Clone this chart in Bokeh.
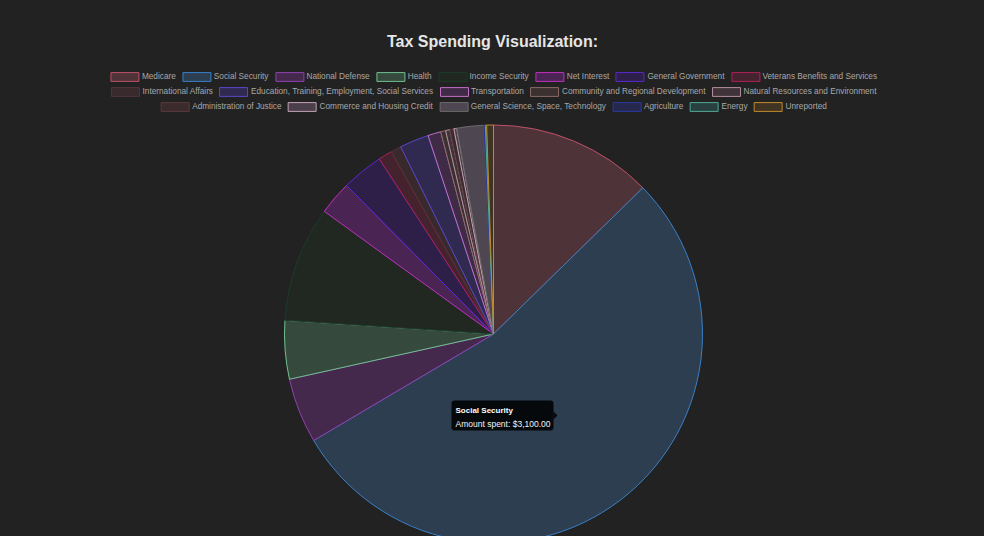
import numpy as np
from bokeh.plotting import figure
from bokeh.models import ColumnDataSource, Range1d, Legend, LegendItem, Label, BoxAnnotation
from bokeh.embed import file_html
from bokeh.resources import INLINE

# ---------------- data ----------------
categories = [
    "Medicare", "Social Security", "National Defense", "Health", "Income Security",
    "Net Interest", "General Government", "Veterans Benefits and Services",
    "International Affairs", "Education, Training, Employment, Social Services",
    "Transportation", "Community and Regional Development",
    "Natural Resources and Environment", "Administration of Justice",
    "Commerce and Housing Credit", "General Science, Space, Technology",
    "Agriculture", "Energy", "Unreported",
]
amounts = [730, 3100, 290, 260, 515, 150, 185, 62, 46, 130, 58, 22, 19, 18, 13, 120, 6, 6, 30]

fill_colors = [
    "#4e3338", "#2c3e50", "#45294c", "#35493d", "#212822",
    "#4a2452", "#2d1f48", "#44232e", "#38292c", "#312a50",
    "#3f2b45", "#3a302f", "#40343a", "#3b2b2d", "#4b4049",
    "#4e4650", "#25284a", "#2a403e", "#3f3322",
]
border_colors = [
    "#c0506a", "#3a80c8", "#9040b0", "#70c090", "#1d3a2a",
    "#c030c0", "#5a28d0", "#b0205a", "#503438", "#5848c8",
    "#c070c8", "#8a6a66", "#b38ea0", "#5a3a3e", "#c3a3bb",
    "#6c6c6c", "#2a3aa0", "#4fa898", "#c08a2a",
]
legend_rows = [8, 5, 6]
tooltip_category = "Social Security"
title_text = "Tax Spending Visualization:"

# ---------------- layout ----------------
W, H = 984, 536
BG = "#222222"
CX, CY, R = 493, H - 333.5, 209

vals = np.array(amounts, dtype=float)
frac = vals / vals.sum()
cum_end = np.cumsum(frac)
cum_start = cum_end - frac
# clockwise from 12 o'clock
start_angle = np.pi / 2 - 2 * np.pi * cum_end
end_angle = np.pi / 2 - 2 * np.pi * cum_start

src = ColumnDataSource(dict(
    category=categories, amount=amounts, start=start_angle, end=end_angle,
    fill=fill_colors, line=border_colors,
))

p = figure(width=W, height=H, x_range=Range1d(0, W), y_range=Range1d(0, H),
           x_axis_type=None, y_axis_type=None, toolbar_location=None,
           output_backend="svg", min_border=0,
           background_fill_color=BG, border_fill_color=BG, outline_line_color=None)

r = p.wedge(x=CX, y=CY, radius=R, start_angle="start", end_angle="end",
            fill_color="fill", line_color="line", line_width=1, source=src)

# legend rows (Chart.js style, centered rows)
margins = [71, 86, 101]
idx = 0
for row, n in enumerate(legend_rows):
    items = [LegendItem(label=categories[i], renderers=[r], index=i) for i in range(idx, idx + n)]
    leg = Legend(items=items, orientation="horizontal", location="top_center",
                 margin=margins[row], padding=0, spacing=3,
                 glyph_width=35, glyph_height=11, label_standoff=0, label_height=11,
                 label_text_font_size="8.25px", label_text_color="#a8a8a8",
                 label_text_font="Liberation Sans",
                 border_line_alpha=0, background_fill_alpha=0)
    p.add_layout(leg, "center")
    idx += n

# title
p.add_layout(Label(x=W / 2, y=H - 41, text=title_text, text_align="center",
                   text_baseline="middle", text_font_size="16px",
                   text_font_style="bold", text_color="#e6e6e6",
                   text_font="Liberation Sans"))

# static tooltip
ti = categories.index(tooltip_category)
tl, tr, tt, tb = 451, 553, H - 400, H - 430
p.add_layout(BoxAnnotation(left=tl, right=tr, top=tt, bottom=tb,
                           fill_color="black", fill_alpha=0.85, line_color=None,
                           border_radius=3))
tcy = (tt + tb) / 2
p.patch(x=[tr, tr + 4, tr], y=[tcy + 4, tcy, tcy - 4], fill_color="black",
        fill_alpha=0.85, line_color=None)
p.add_layout(Label(x=tl + 4, y=H - 409.5, text=categories[ti], text_baseline="middle",
                   text_font_size="8px", text_font_style="bold", text_color="#ffffff",
                   text_font="Liberation Sans"))
p.add_layout(Label(x=tl + 4, y=H - 423.5, text=f"Amount spent: ${amounts[ti]:,.2f}",
                   text_baseline="middle", text_font_size="8.5px", text_color="#f2f2f2",
                   text_font="Liberation Sans"))

html = file_html(p, INLINE)
html = html.replace("<head>", "<head><style>html,body{margin:0;padding:0;background:#222222;}</style>", 1)
open("out.html", "w").write(html)
